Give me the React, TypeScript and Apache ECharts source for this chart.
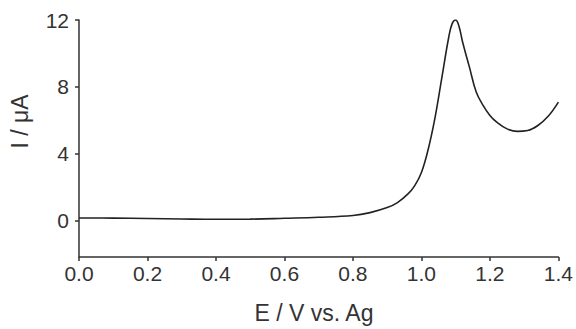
import React, { useEffect, useRef } from "react";
import * as echarts from "echarts";

const potentials = [0.0, 0.1, 0.2, 0.3, 0.4, 0.5, 0.6, 0.7, 0.8, 0.85, 0.9, 0.93, 0.96, 0.98, 1.0, 1.02, 1.04, 1.06, 1.08, 1.09, 1.1, 1.11, 1.12, 1.14, 1.16, 1.18, 1.2, 1.22, 1.25, 1.28, 1.31, 1.34, 1.37, 1.4];
const currents = [0.18, 0.17, 0.15, 0.12, 0.1, 0.11, 0.16, 0.22, 0.33, 0.5, 0.8, 1.1, 1.6, 2.1, 2.9, 4.3, 6.2, 8.6, 11.0, 11.8, 12.0, 11.6, 10.7, 9.2, 7.7, 6.9, 6.3, 5.9, 5.5, 5.35, 5.4, 5.7, 6.25, 7.1];
const xTicks = [0, 0.2, 0.4, 0.6, 0.8, 1.0, 1.2, 1.4];
const yTicks = [0, 4, 8, 12];
const xTitle = "E / V vs. Ag";
const yTitle = "I / μA";

export default function App() {
  const ref = useRef<HTMLDivElement>(null);
  useEffect(() => {
    if (!ref.current) return;
    const chart = echarts.init(ref.current, undefined, { renderer: "svg" });
    const axisColor = "#333";
    const font = "Liberation Sans, Arial, sans-serif";
    chart.setOption({
      animation: false,
      grid: { left: 79, right: 15, top: 20, bottom: 72 },
      graphic: [
        {
          type: "text",
          x: 314,
          y: 313,
          style: {
            text: xTitle,
            font: `23px ${font}`,
            fill: "#333",
            textAlign: "center",
            textVerticalAlign: "middle",
          },
        },
        {
          type: "text",
          x: 20,
          y: 121.5,
          rotation: Math.PI / 2,
          style: {
            text: yTitle,
            font: `23px ${font}`,
            fill: "#333",
            textAlign: "center",
            textVerticalAlign: "middle",
          },
        },
      ],
      xAxis: {
        type: "value",
        min: 0,
        max: 1.4,
        interval: 0.2,
        axisLine: { show: true, onZero: false, lineStyle: { color: axisColor, width: 1.5 } },
        axisTick: { show: true, length: 4, lineStyle: { color: axisColor, width: 1.5 } },
        axisLabel: {
          fontSize: 21,
          color: "#333",
          fontFamily: font,
          margin: 6,
          formatter: (v: number) => (xTicks.some((t) => Math.abs(t - v) < 1e-6) ? v.toFixed(1) : ""),
        },
        splitLine: { show: false },
      },
      yAxis: {
        type: "value",
        min: -2.15,
        max: 12,
        axisLine: { show: true, onZero: false, lineStyle: { color: axisColor, width: 1.5 } },
        axisTick: {
          show: true,
          length: 4,
          lineStyle: { color: axisColor, width: 1.5 },
          customValues: yTicks,
        },
        axisLabel: {
          fontSize: 21,
          color: "#333",
          fontFamily: font,
          margin: 10,
          customValues: yTicks,
        },
        splitLine: { show: false },
      },
      series: [
        {
          type: "line",
          data: potentials.map((p, i) => [p, currents[i]]),
          smooth: 0.4,
          showSymbol: false,
          lineStyle: { color: "#222", width: 1.6 },
        },
      ],
    });
    return () => chart.dispose();
  }, []);
  return <div ref={ref} style={{ width: 576, height: 329, position: "absolute", left: 0, top: 0 }} />;
}
